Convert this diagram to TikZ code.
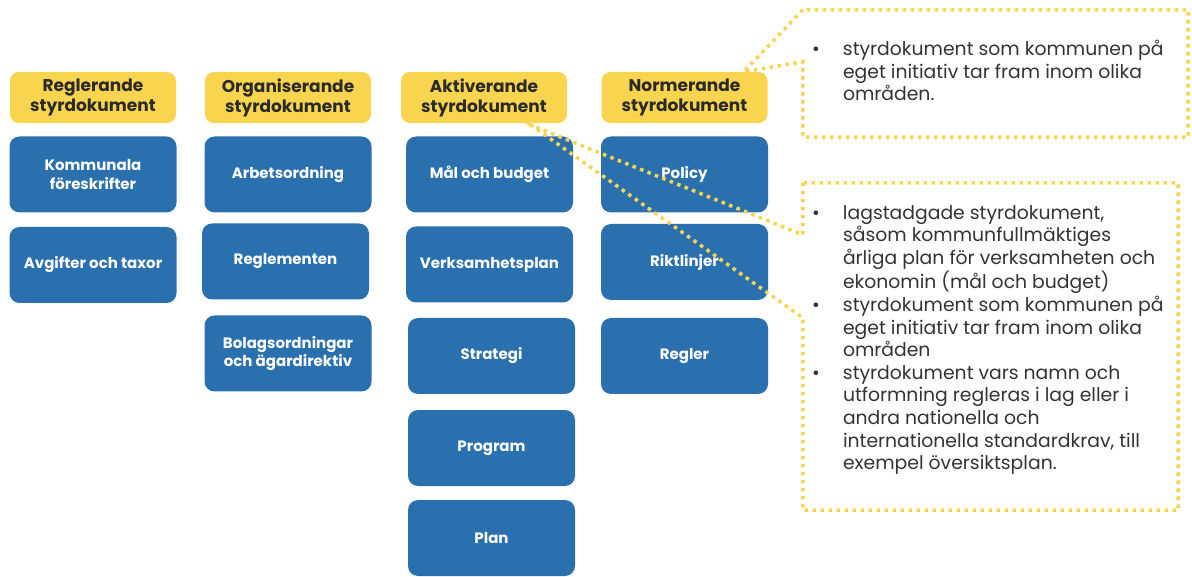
\documentclass[tikz,border=0pt]{standalone}
\usepackage{fontspec}
\setmainfont{Poppins}
\usetikzlibrary{calc}

\definecolor{hdryellow}{HTML}{F9D44E}
\definecolor{docblue}{HTML}{2B70AE}
\definecolor{darktext}{HTML}{2A2A2A}
\definecolor{notetext}{HTML}{333333}

\begin{document}
\begin{tikzpicture}[x=1pt, y=-1pt,
    header/.style={fill=hdryellow, rounded corners=9pt, minimum width=166pt, minimum height=51pt,
      inner sep=0pt, align=center, text=darktext, font=\bfseries\fontsize{17}{20}\selectfont},
    doc/.style={fill=docblue, rounded corners=10pt, minimum width=167pt, minimum height=76pt,
      inner sep=0pt, align=center, text=white, font=\bfseries\fontsize{15}{18.5}\selectfont},
    notebox/.style={inner sep=0pt},
    notetextbox/.style={anchor=west, inner sep=0pt, text=notetext, font=\fontsize{18.8}{22.6}\selectfont},
    calloutline/.style={draw=hdryellow, line width=3.5pt, dash pattern=on 3.5pt off 4.5pt}]

            \useasboundingbox (0,0) rectangle (1192,577);

            % Column headers
            \node[header] (reglerande) at (93,97.5) {Reglerande\\styrdokument};
            \node[header] (organiserande) at (288,97.5) {Organiserande\\styrdokument};
            \node[header] (aktiverande) at (484,97.5) {Aktiverande\\styrdokument};
            \node[header] (normerande) at (684.5,97.5) {Normerande\\styrdokument};

            % Reglerande
            \node[doc] (foreskrifter) at (93,174.5) {Kommunala\\föreskrifter};
            \node[doc] (avgifter) at (93,265) {Avgifter och taxor};

            % Organiserande
            \node[doc] (arbetsordning) at (288,174.5) {Arbetsordning};
            \node[doc] (reglementen) at (285.5,261.5) {Reglementen};
            \node[doc] (bolagsordningar) at (288,353.5) {Bolagsordningar\\och ägardirektiv};

            % Aktiverande
            \node[doc] (malbudget) at (489.5,174.5) {Mål och budget};
            \node[doc] (verksamhetsplan) at (489.5,264.5) {Verksamhetsplan};
            \node[doc] (strategi) at (491.5,356) {Strategi};
            \node[doc] (program) at (491.5,448) {Program};
            \node[doc] (plan) at (491.5,538) {Plan};

            % Normerande
            \node[doc] (policy) at (684.5,174.5) {Policy};
            \node[doc] (riktlinjer) at (684.5,262) {Riktlinjer};
            \node[doc] (regler) at (684.5,356) {Regler};

            % Callout boxes
            \node[notebox, minimum width=385pt, minimum height=127pt] (topnote) at (995.5,73.5) {};
            \node[notebox, minimum width=375pt, minimum height=327pt] (bottomnote) at (990.5,346.5) {};

            \node[notetextbox] (toptext) at ($(topnote.west)+(9,0)$) {%
              \begin{tabular}{@{}p{31pt}@{}l@{}}
                \textbullet & styrdokument som kommunen på\\
                & eget initiativ tar fram inom olika\\
                & områden.
              \end{tabular}};

            \node[notetextbox] (bottomtext) at ($(bottomnote.west)+(9,-6.5)$) {%
              \begin{tabular}{@{}p{31pt}@{}l@{}}
                \textbullet & lagstadgade styrdokument,\\
                & såsom kommunfullmäktiges\\
                & årliga plan för verksamheten och\\
                & ekonomin (mål och budget)\\
                \textbullet & styrdokument som kommunen på\\
                & eget initiativ tar fram inom olika\\
                & områden\\
                \textbullet & styrdokument vars namn och\\
                & utformning regleras i lag eller i\\
                & andra nationella och\\
                & internationella standardkrav, till\\
                & exempel översiktsplan.
              \end{tabular}};

            % Pointers
            \coordinate (normtip) at ($(normerande.north east)+(-24,0)$);
            \coordinate (aktivtip) at ($(aktiverande.south east)+(-36,2)$);

            \draw[calloutline] (topnote.north west) -- (normtip) -- ($(topnote.north west)+(0,52)$)
              -- (topnote.south west) -- (topnote.south east) -- (topnote.north east) -- cycle;
            \draw[calloutline] (bottomnote.north west) -- ($(bottomnote.north west)+(0,52)$) -- (aktivtip)
              -- ($(bottomnote.north west)+(0,135)$) -- (bottomnote.south west) -- (bottomnote.south east)
              -- (bottomnote.north east) -- cycle;
\end{tikzpicture}
\end{document}
